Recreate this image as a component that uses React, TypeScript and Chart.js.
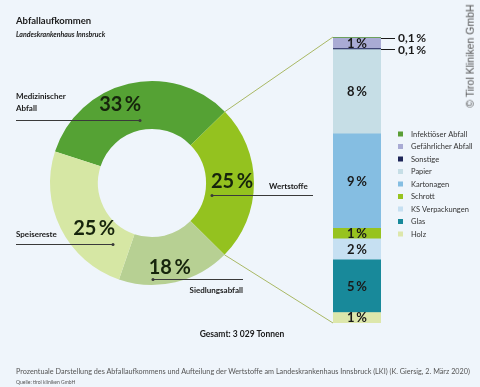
import React, { useEffect, useRef } from 'react';
import { Chart, registerables } from 'chart.js';
Chart.register(...registerables);

const FONT = 'Lato, "Open Sans", sans-serif';

const donutLabels = ['Medizinischer Abfall', 'Wertstoffe', 'Siedlungsabfall', 'Speisereste'];
const donutValues = [33, 25, 18, 25];
const donutColors = ['#55a234', '#94c21f', '#b7d093', '#d6e7a4'];

const barLabels = ['Infektiöser Abfall', 'Gefährlicher Abfall', 'Sonstige', 'Papier', 'Kartonagen', 'Schrott', 'KS Verpackungen', 'Glas', 'Holz'];
const barValues = [0.1, 1, 0.1, 8, 9, 1, 2, 5, 1];
const barColors = ['#5a9e36', '#a9abd4', '#1e2658', '#c6dee6', '#85bee2', '#97c31f', '#c6e0f2', '#18899a', '#dde7ab'];

const totalText = 'Gesamt: 3 029 Tonnen';

// annotation layout for the donut labels (offsets relative to each arc's midpoint)
const donutAnno = [
  { dx: -14, dy: -2, name: ['Medizinischer', 'Abfall'], nameX: 16, nameY: 96, align: 'left', lineY: 120, x0: 16, x1: 140, dot: 'right' },
  { dx: 2, dy: -2, name: ['Wertstoffe'], nameX: 269, nameY: 186, align: 'left', lineY: 195, x0: 212, x1: 313, dot: 'left' },
  { dx: 0, dy: 9, name: ['Siedlungsabfall'], nameX: 243, nameY: 290, align: 'right', lineY: 279, x0: 153, x1: 243, dot: 'left' },
  { dx: 12, dy: 11, name: ['Speisereste'], nameX: 16, nameY: 234, align: 'left', lineY: 244, x0: 16, x1: 113, dot: 'right' },
];

const fmtPct = (v: number) => (v < 1 ? String(v).replace('.', ',') : String(v)) + '\u2009%';

export default function App() {
  const donutRef = useRef<HTMLCanvasElement>(null);
  const barRef = useRef<HTMLCanvasElement>(null);

  useEffect(() => {
    const donutLabelPlugin = {
      id: 'donutLabels',
      afterDraw(chart: any) {
        const ctx = chart.ctx;
        const meta = chart.getDatasetMeta(0);
        ctx.save();
        meta.data.forEach((arc: any, i: number) => {
          const a = donutAnno[i];
          const p = arc.tooltipPosition();
          ctx.fillStyle = '#16240c';
          ctx.font = `bold 20px ${FONT}`;
          ctx.textAlign = 'center';
          ctx.textBaseline = 'middle';
          ctx.fillText(fmtPct(donutValues[i]), p.x + a.dx, p.y + a.dy);
          // underline
          ctx.strokeStyle = '#3a3a3a';
          ctx.lineWidth = 1;
          ctx.beginPath();
          ctx.moveTo(a.x0, a.lineY + 0.5);
          ctx.lineTo(a.x1, a.lineY + 0.5);
          ctx.stroke();
          ctx.fillStyle = '#3a3a3a';
          ctx.beginPath();
          ctx.arc(a.dot === 'right' ? a.x1 : a.x0, a.lineY + 0.5, 1.5, 0, Math.PI * 2);
          ctx.fill();
          // names
          ctx.fillStyle = '#1a1a1a';
          ctx.font = `bold 8px ${FONT}`;
          ctx.textAlign = a.align as CanvasTextAlign;
          a.name.forEach((t, k) => ctx.fillText(t, a.nameX, a.nameY + k * 12.5));
        });
        ctx.restore();
      },
    };

    const donut = new Chart(donutRef.current!, {
      type: 'doughnut',
      data: {
        labels: donutLabels,
        datasets: [{ data: donutValues, backgroundColor: donutColors, borderWidth: 0 }],
      },
      options: {
        responsive: false,
        animation: false,
        rotation: -72,
        cutout: '53%',
        events: [],
        layout: { padding: { left: 50, right: 226, top: 81, bottom: 102 } },
        plugins: { legend: { display: false }, tooltip: { enabled: false } },
      },
      plugins: [donutLabelPlugin],
    });

    const total = barValues.reduce((s, v) => s + v, 0);

    const barPlugin = {
      id: 'barExtras',
      beforeDatasetsDraw(chart: any) {
        // connector lines from donut's Wertstoffe segment to the bar
        const ctx = chart.ctx;
        const area = chart.chartArea;
        const arc: any = donut.getDatasetMeta(0).data[1];
        const r = arc.outerRadius;
        const sx = arc.x + r * Math.cos(arc.startAngle);
        const sy = arc.y + r * Math.sin(arc.startAngle);
        const ex = arc.x + r * Math.cos(arc.endAngle);
        const ey = arc.y + r * Math.sin(arc.endAngle);
        ctx.save();
        ctx.strokeStyle = '#a9b864';
        ctx.lineWidth = 1;
        ctx.beginPath();
        ctx.moveTo(sx, sy);
        ctx.lineTo(area.left, area.top);
        ctx.moveTo(ex, ey);
        ctx.lineTo(area.left, area.bottom);
        ctx.stroke();
        ctx.restore();
      },
      afterDatasetsDraw(chart: any) {
        const ctx = chart.ctx;
        const area = chart.chartArea;
        ctx.save();
        ctx.textBaseline = 'middle';
        chart.data.datasets.forEach((ds: any, di: number) => {
          const el: any = chart.getDatasetMeta(di).data[0];
          const v = ds.data[0];
          const cy = (el.y + el.base) / 2;
          if (v >= 1) {
            ctx.fillStyle = '#1a1a1a';
            ctx.font = `bold 13px ${FONT}`;
            ctx.textAlign = 'center';
            ctx.fillText(fmtPct(v), el.x, cy + 0.5);
          } else {
            const rx = el.x + el.width / 2;
            ctx.strokeStyle = '#1a1a1a';
            ctx.lineWidth = 1;
            ctx.beginPath();
            ctx.moveTo(rx, Math.round(cy) + 0.5);
            ctx.lineTo(rx + 14, Math.round(cy) + 0.5);
            ctx.stroke();
            ctx.fillStyle = '#1a1a1a';
            ctx.font = `bold 12px ${FONT}`;
            ctx.textAlign = 'left';
            ctx.fillText(fmtPct(v), rx + 17, cy + 1);
          }
        });
        // legend
        const lx = area.right + 17;
        const ly = 134;
        const step = 12.5;
        ctx.font = `7.5px ${FONT}`;
        ctx.textAlign = 'left';
        barLabels.forEach((lab, i) => {
          const y = ly + i * step;
          ctx.fillStyle = barColors[i];
          ctx.fillRect(lx, y - 2.5, 5, 5);
          ctx.fillStyle = '#333';
          ctx.fillText(lab, lx + 13, y + 0.5);
        });
        ctx.restore();
      },
    };

    const bar = new Chart(barRef.current!, {
      type: 'bar',
      data: {
        labels: ['Wertstoffe'],
        datasets: barLabels
          .map((l, i) => ({
            label: l,
            data: [barValues[i]],
            backgroundColor: barColors[i],
            borderWidth: 0,
            barPercentage: 1,
            categoryPercentage: 1,
          }))
          .reverse(),
      },
      options: {
        responsive: false,
        animation: false,
        events: [],
        layout: { padding: { left: 333, right: 99, top: 37, bottom: 64 } },
        scales: {
          x: { display: false, stacked: true },
          y: { display: false, stacked: true, min: 0, max: total },
        },
        plugins: { legend: { display: false }, tooltip: { enabled: false } },
      },
      plugins: [barPlugin],
    });

    return () => {
      bar.destroy();
      donut.destroy();
    };
  }, []);

  const abs: React.CSSProperties = { position: 'absolute', whiteSpace: 'nowrap', fontFamily: FONT };

  return (
    <div style={{ position: 'absolute', left: 0, top: 0, width: 480, height: 387, background: '#eff5fb', overflow: 'hidden' }}>
      <canvas ref={donutRef} width={480} height={387} style={{ position: 'absolute', left: 0, top: 0 }} />
      <canvas ref={barRef} width={480} height={387} style={{ position: 'absolute', left: 0, top: 0 }} />
      <div style={{ ...abs, left: 16, top: 15, fontSize: 9.5, fontWeight: 700, color: '#1a1a1a' }}>Abfallaufkommen</div>
      <div style={{ ...abs, left: 16, top: 30, fontSize: 7, fontWeight: 700, fontStyle: 'italic', color: '#1a1a1a' }}>Landeskrankenhaus Innsbruck</div>
      <div style={{ ...abs, left: 242, top: 334, transform: 'translate(-50%,-50%)', fontSize: 8.5, fontWeight: 700, color: '#1a1a1a' }}>{totalText}</div>
      <div style={{ ...abs, left: 16, top: 367, fontSize: 7.25, color: '#555' }}>
        Prozentuale Darstellung des Abfallaufkommens und Aufteilung der Wertstoffe am Landeskrankenhaus Innsbruck (LKI) (K. Giersig, 2. März 2020)
      </div>
      <div style={{ ...abs, left: 16, top: 379, fontSize: 5, color: '#555' }}>Quelle: tirol kliniken GmbH</div>
      <div style={{ ...abs, left: 470, top: 56, transform: 'translate(-50%,-50%) rotate(-90deg)', fontSize: 10.5, fontFamily: '"Liberation Sans", Arial, sans-serif', color: '#555', lineHeight: 1 }}>
        © Tirol Kliniken GmbH
      </div>
    </div>
  );
}
